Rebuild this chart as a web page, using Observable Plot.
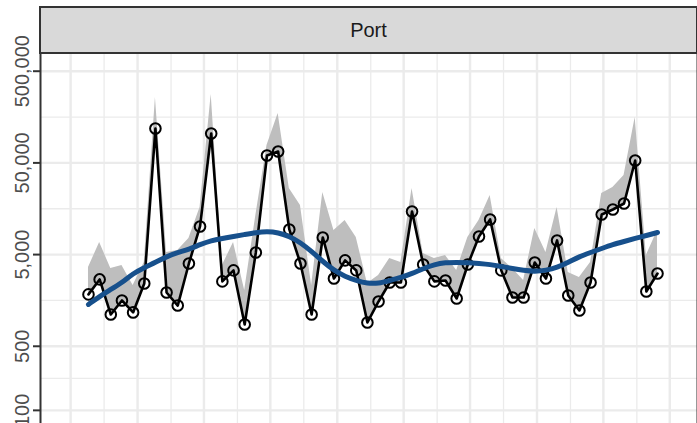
<!DOCTYPE html>
<html><head><meta charset="utf-8">
<script src="https://cdn.jsdelivr.net/npm/d3@7"></script>
<script src="https://cdn.jsdelivr.net/npm/@observablehq/plot@0.6"></script>
<style>
html,body{margin:0;padding:0;background:#fff;}
#wrap{position:relative;width:697px;height:423px;overflow:hidden;font-family:"Liberation Sans",Arial,sans-serif;}
#strip{position:absolute;left:39px;top:6px;width:659px;height:48px;box-sizing:border-box;background:#d9d9d9;border:2px solid #333;display:flex;align-items:center;justify-content:center;font-size:20px;color:#1a1a1a;z-index:2;}
#plot{position:absolute;left:0;top:0;}
</style></head><body>
<div id="wrap"><div id="plot"></div><div id="strip">Port</div></div>
<script>
// Observation index (evenly spaced periods)
const periods = d3.range(1, 53);
// Observed values (log scale)
const values = [1840, 2680, 1110, 1580, 1170, 2420, 118600, 1930, 1390, 4000,
  10140, 104700, 2550, 3360, 865, 5270, 60200, 66600, 9400, 4000,
  1110, 7690, 2740, 4320, 3360, 910, 1540, 2480, 2480, 14760,
  3900, 2550, 2610, 1660, 3900, 7870, 12080, 3360, 1700, 1700,
  4100, 2740, 7130, 1790, 1230, 2480, 13680, 15520, 18030, 53100,
  1980, 3110];
// Upper bound of the grey band
const upper = [3610, 6780, 3520, 3800, 2300, 4100, 258000, 5270, 5550, 7500,
  16300, 278600, 3800, 6780, 2030, 13340, 77400, 173000, 26300, 17140,
  2300, 23770, 9160, 11780, 7690, 2420, 2960, 4530, 4100, 26300,
  5140, 4530, 4890, 3360, 7690, 11780, 22030, 4530, 3520, 2610,
  9640, 5270, 16300, 3190, 2810, 4100, 23170, 26980, 36480, 156300,
  4890, 9160];
// Smoothed trend
const smooth = [1430, 1750, 2080, 2480, 3110, 3610, 4100, 4760, 5270, 5690,
  6440, 7130, 7500, 7870, 8280, 8710, 8930, 8710, 7870, 6780,
  5410, 4210, 3360, 2880, 2610, 2420, 2420, 2610, 2810, 3110,
  3520, 3900, 4100, 4100, 4100, 4000, 3900, 3710, 3520, 3360,
  3270, 3360, 3610, 4100, 4760, 5270, 5830, 6440, 6950, 7500,
  8070, 8710];
// Axis ticks / grid
const majorY = [100, 500, 5000, 50000, 500000];
const minorY = [223.6, 1581, 15811, 158114];
const majorX = [-0.6, 5.4, 11.35, 17.3, 23.3, 29.25, 35.2, 41.2, 47.15, 53.1];
const minorX = [2.4, 8.4, 14.35, 20.3, 26.3, 32.25, 38.2, 44.2, 50.15];
const xDomain = [-3.30, 55.585];
const yDomain = [71.9, 780000];

const data = periods.map((t, i) => ({t, value: values[i], upper: upper[i], smooth: smooth[i]}));
const fmt = d3.format(",");

const chart = Plot.plot({
  width: 697, height: 423,
  marginTop: 53, marginBottom: 0, marginLeft: 40, marginRight: 0,
  x: {domain: xDomain, axis: null},
  y: {type: "log", domain: yDomain},
  style: {fontFamily: '"Liberation Sans", Arial, sans-serif', background: "white"},
  marks: [
    Plot.ruleY(minorY, {stroke: "#ebebeb", strokeWidth: 1.3}),
    Plot.ruleX(minorX, {stroke: "#ebebeb", strokeWidth: 1.3}),
    Plot.ruleY(majorY, {stroke: "#ebebeb", strokeWidth: 2.4}),
    Plot.ruleX(majorX, {stroke: "#ebebeb", strokeWidth: 2.4}),
    Plot.areaY(data, {x: "t", y1: "value", y2: "upper", fill: "#bebebe"}),
    Plot.lineY(data, {x: "t", y: "value", stroke: "black", strokeWidth: 2.6}),
    Plot.dot(data, {x: "t", y: "value", r: 5.3, stroke: "black", strokeWidth: 2, fill: "none"}),
    Plot.lineY(data, {x: "t", y: "smooth", stroke: "#17508c", strokeWidth: 5, curve: "basis"}),
    Plot.ruleX([xDomain[0]], {stroke: "#333", strokeWidth: 2}),
    Plot.ruleX([xDomain[1]], {stroke: "#333", strokeWidth: 2}),
    Plot.axisY(majorY, {tickSize: 7, tickFormat: () => "", stroke: "#333", strokeWidth: 2, label: null}),
    Plot.text(majorY, {y: d => d, frameAnchor: "left", dx: -12, rotate: -90, textAnchor: "middle", lineAnchor: "bottom", text: d => fmt(d), fontSize: 20, fill: "#4d4d4d"})
  ]
});
document.getElementById("plot").appendChild(chart);
</script>
</body></html>
